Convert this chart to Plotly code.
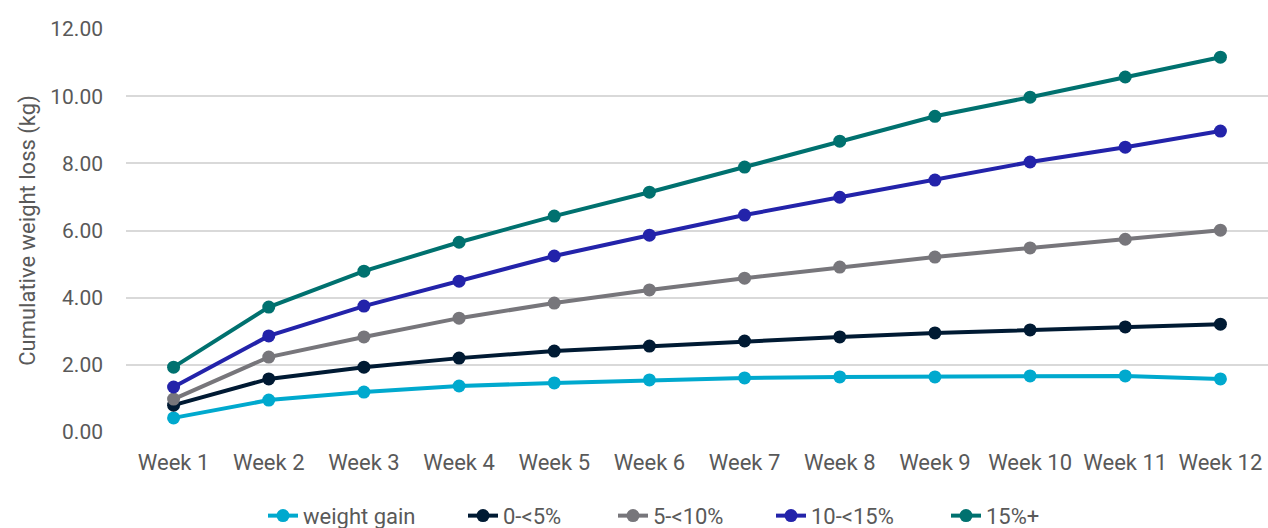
import plotly.graph_objects as go

weeks = [f"Week {i}" for i in range(1, 13)]

weight_gain = [0.42, 0.95, 1.19, 1.37, 1.46, 1.55, 1.61, 1.64, 1.64, 1.67, 1.67, 1.58]
loss_0_5 = [0.80, 1.58, 1.93, 2.20, 2.41, 2.56, 2.71, 2.83, 2.95, 3.04, 3.13, 3.21]
loss_5_10 = [0.98, 2.23, 2.83, 3.39, 3.84, 4.23, 4.58, 4.91, 5.21, 5.48, 5.74, 6.01]
loss_10_15 = [1.34, 2.86, 3.75, 4.49, 5.24, 5.86, 6.46, 6.99, 7.50, 8.04, 8.48, 8.96]
loss_15_plus = [1.93, 3.72, 4.79, 5.65, 6.43, 7.14, 7.89, 8.66, 9.40, 9.97, 10.57, 11.16]

series = [
    ("weight gain", weight_gain, "#00A9CE"),
    ("0-<5%", loss_0_5, "#001A33"),
    ("5-<10%", loss_5_10, "#77767B"),
    ("10-<15%", loss_10_15, "#2323AA"),
    ("15%+", loss_15_plus, "#00716F"),
]

# Left edge (px) of each legend entry along the bottom row
legend_left_px = [263, 463, 613, 771, 946]

font_family = "Roboto"
text_color = "#595959"
plot_left, plot_width = 126, 1142

fig = go.Figure()
legend_layouts = {}
for i, (name, vals, color) in enumerate(series):
    key = "legend" if i == 0 else f"legend{i + 1}"
    fig.add_trace(go.Scatter(
        x=weeks, y=vals, name=name, mode="lines+markers",
        line=dict(color=color, width=4),
        marker=dict(color=color, size=13),
        legend=key,
    ))
    legend_layouts[key] = dict(
        orientation="h", xref="paper",
        x=(legend_left_px[i] - plot_left) / plot_width, xanchor="left",
        yref="paper", y=-0.208, yanchor="middle",
        font=dict(size=22, color=text_color),
        bgcolor="rgba(0,0,0,0)", borderwidth=0,
    )

fig.update_layout(
    width=1268, height=528, autosize=False,
    margin=dict(l=plot_left, r=0, t=29, b=96, autoexpand=False),
    paper_bgcolor="white", plot_bgcolor="white",
    font=dict(family=font_family, size=21, color=text_color),
    showlegend=True,
    xaxis=dict(
        type="category", range=[-0.5, 11.5],
        showgrid=False, zeroline=False, showline=False,
        ticks="", ticklabelstandoff=15, tickangle=0, automargin=False,
        tickfont=dict(size=22, color=text_color),
    ),
    yaxis=dict(
        range=[0, 12], dtick=2, tickformat=".2f",
        showgrid=True, gridcolor="#D9D9D9", gridwidth=1.5,
        zeroline=False, showline=False, ticks="", automargin=False,
        ticklabelstandoff=22,
        tickfont=dict(size=21, color=text_color),
        title=dict(text="Cumulative weight loss (kg)", standoff=8,
                   font=dict(size=22, color=text_color)),
    ),
    **legend_layouts,
)

fig.write_html("out.html")
